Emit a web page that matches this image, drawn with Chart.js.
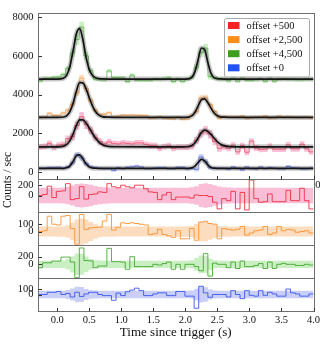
<!DOCTYPE html>
<html>
<head>
<meta charset="utf-8">
<script src="https://cdn.jsdelivr.net/npm/chart.js@4.4.0/dist/chart.umd.min.js"></script>
<style>
  html, body { margin: 0; padding: 0; background: #fff; }
</style>
</head>
<body>
<canvas id="lc" width="320" height="355"></canvas>
<script>
// time binning of the light curve
const T_START = -0.3;
const T_END = 4.0;
const N_BINS = 60;
const X_TICKS = [0, 0.5, 1.0, 1.5, 2.0, 2.5, 3.0, 3.5, 4.0];

// tick labels of the panels
const MAIN_TICKS = [0, 2000, 4000, 6000, 8000];
const RED_TICKS = [0, 200];
const ORANGE_TICKS = [0, 100];
const GREEN_TICKS = [0, 200];
const BLUE_TICKS = [0, 100];

// series order: red, orange, green, blue
const SERIES_LABELS = ['offset +500', 'offset +2,500', 'offset +4,500', 'offset +0'];
const SERIES_OFFSET = [500, 2500, 4500, 0];

// fitted model (counts / sec, before offset), sampled at MODEL_T
const MODEL_T = [-0.3, 0.0, 0.1, 0.15, 0.2, 0.25, 0.3, 0.35, 0.4, 0.45, 0.5, 0.55, 0.6, 0.65, 0.7, 0.8, 0.9,
  1.5, 1.95, 2.05, 2.1, 2.15, 2.2, 2.25, 2.3, 2.35, 2.4, 2.45, 2.5, 2.55, 2.6, 2.7, 2.8, 4.0];
const modelRed = [800, 802, 837, 926, 1135, 1491, 1912, 2192, 2192, 2032, 1775, 1491, 1238, 1049, 926, 823, 805,
  800, 801, 818, 873, 1015, 1264, 1537, 1660, 1599, 1440, 1242, 1063, 935, 860, 808, 800, 800];
const modelOrange = [320, 322, 340, 412, 629, 1076, 1680, 2114, 2103, 1793, 1343, 918, 613, 441, 362, 330, 322,
  320, 320, 336, 398, 582, 915, 1233, 1280, 1087, 797, 551, 407, 346, 330, 322, 320, 320];
const modelGreen = [300, 300, 349, 515, 975, 1797, 2646, 2900, 2342, 1434, 800, 480, 370, 320, 305, 300, 300,
  300, 300, 310, 387, 684, 1313, 1903, 1823, 1169, 598, 362, 320, 305, 300, 300, 300, 300];
const modelBlue = [190, 190, 193, 217, 318, 565, 847, 882, 681, 424, 265, 207, 195, 191, 190, 190, 190,
  190, 190, 191, 212, 301, 494, 649, 575, 368, 236, 197, 191, 190, 190, 190, 190, 190];

// 1-sigma errors, sampled at MODEL_T
const errRed = [150, 150, 155, 165, 180, 200, 220, 235, 235, 225, 215, 200, 185, 175, 165, 155, 150,
  150, 150, 152, 158, 170, 195, 225, 240, 235, 220, 200, 185, 170, 160, 152, 150, 150];
const errOrange = [70, 70, 72, 80, 98, 128, 160, 180, 180, 165, 143, 118, 97, 82, 75, 71, 70,
  70, 70, 72, 78, 94, 117, 136, 140, 128, 110, 92, 79, 73, 71, 70, 70, 70];
const errGreen = [95, 95, 100, 125, 170, 230, 280, 295, 265, 205, 155, 120, 105, 98, 96, 95, 95,
  95, 95, 97, 108, 143, 198, 240, 235, 188, 135, 105, 98, 96, 95, 95, 95, 95];
const errBlue = [70, 70, 70, 75, 90, 118, 140, 145, 128, 103, 82, 73, 71, 70, 70, 70, 70,
  70, 70, 70, 74, 90, 125, 150, 140, 110, 83, 72, 70, 70, 70, 70, 70, 70];

// residuals (data - model) per time bin
const residRed = [0, 20, 180, -40, 80, 90, 230, -80, -60, 170,
  -70, 20, 30, 70, 60, 230, 170, 150, 200, 170,
  150, 200, 200, 130, 70, 60, -80, 10, 60, -80,
  -30, -30, -30, -50, 10, 0, 0, -20, -130, -260,
  -60, -100, 80, -260, 60, -280, 300, -60, -130, -120,
  30, -120, -120, -120, 100, -100, -100, 140, -100, -260];
const residOrange = [0, 10, 210, 100, 90, 210, 220, 40, -175, 235,
  30, 50, 55, 60, 145, 235, 20, 60, 120, 110,
  120, 110, 100, 90, -40, -30, 30, -40, -60, -80,
  10, -100, -100, 40, -120, 130, 140, 110, 100, -100,
  40, 30, 20, 30, 70, -50, -20, 10, 20, 70,
  -40, -20, 70, 10, 30, 20, -10, 0, 10, -20];
const residGreen = [-90, 40, 40, 85, 85, 190, 190, 60, -350, 430,
  100, 90, -90, -45, -45, 420, 70, 70, 60, -130,
  200, -60, -60, -60, -60, 0, -20, 20, 60, -130,
  0, -130, 0, 0, -60, -170, 280, -310, 30, 0,
  0, -90, 60, -110, 85, -60, -60, -30, 20, -110,
  60, -110, 0, 25, 0, 0, -30, -30, 0, -20];
const residBlue = [0, 0, 40, 40, 55, 0, 20, -45, 40, -35,
  10, 40, 40, 0, -20, -20, -105, 25, -20, 50,
  80, 115, 70, -20, -20, 10, 30, 30, -20, -20,
  55, 55, -30, -30, -250, 150, 30, -50, 0, 0,
  0, -45, 70, 0, -75, 70, -15, -30, 70, -15,
  40, 10, -30, -30, 100, 30, 10, -30, -30, 10];

// styling
const LINE_COLORS = ['rgba(236,40,60,0.85)', 'rgba(250,140,40,0.85)', 'rgba(60,165,40,0.85)', 'rgba(50,80,235,0.85)'];
const MAIN_LINE_COLORS = ['rgba(236,40,60,0.6)', 'rgba(250,140,40,0.6)', 'rgba(60,170,40,0.6)', 'rgba(50,80,235,0.6)'];
const BAND_COLORS = ['rgba(240,60,130,0.33)', 'rgba(250,150,60,0.32)', 'rgba(90,205,70,0.33)', 'rgba(80,95,230,0.30)'];
const PATCH_COLORS = ['#f42222', '#ff8d1c', '#3c9f1e', '#2452f2'];
const RESID_AXES = ['r1', 'r2', 'r3', 'r4'];
const FRAME_COLOR = '#6f6f6f';
const FONT = "'Liberation Serif', 'Times New Roman', serif";

const MODELS = [modelRed, modelOrange, modelGreen, modelBlue];
const ERRORS = [errRed, errOrange, errGreen, errBlue];
const RESIDS = [residRed, residOrange, residGreen, residBlue];

const binW = (T_END - T_START) / N_BINS;
const edges = [];
for (let i = 0; i <= N_BINS; i++) edges.push(T_START + i * binW);
const centers = edges.slice(0, N_BINS).map(e => e + binW / 2);

function interp(ts, vs, t) {
  for (let j = 1; j < ts.length; j++) {
    if (t <= ts[j]) {
      const f = (t - ts[j - 1]) / (ts[j] - ts[j - 1]);
      return vs[j - 1] + f * (vs[j] - vs[j - 1]);
    }
  }
  return vs[vs.length - 1];
}

function stepPoints(vals) {
  const pts = vals.map((v, i) => ({ x: edges[i], y: v }));
  pts.push({ x: edges[N_BINS], y: vals[vals.length - 1] });
  return pts;
}

const datasets = [];
MODELS.forEach((model, k) => {
  const off = SERIES_OFFSET[k];
  const err = centers.map(t => interp(MODEL_T, ERRORS[k], t));
  const data = centers.map((t, i) => interp(MODEL_T, model, t) + RESIDS[k][i] + off);
  const common = { pointRadius: 0, stepped: 'before' };

  // main panel: error band, data histogram, model with halo
  datasets.push({ ...common, yAxisID: 'y', data: stepPoints(data.map((v, i) => v + err[i])),
    fill: '+1', backgroundColor: BAND_COLORS[k], borderWidth: 0, order: 4 });
  datasets.push({ ...common, yAxisID: 'y', data: stepPoints(data.map((v, i) => v - err[i])),
    fill: false, borderWidth: 0, order: 4 });
  datasets.push({ ...common, yAxisID: 'y', data: stepPoints(data),
    borderColor: MAIN_LINE_COLORS[k], borderWidth: 1, fill: false, order: 3 });
  const modelPts = MODEL_T.map((t, j) => ({ x: t, y: model[j] + off }));
  datasets.push({ yAxisID: 'y', data: modelPts, pointRadius: 0, cubicInterpolationMode: 'monotone',
    borderColor: 'rgba(80,80,80,0.32)', borderWidth: 5, fill: false, order: 2 });
  datasets.push({ yAxisID: 'y', data: modelPts, pointRadius: 0, cubicInterpolationMode: 'monotone',
    borderColor: '#141414', borderWidth: 1.7, fill: false, order: 1 });

  // residual panel
  const ax = RESID_AXES[k];
  datasets.push({ ...common, yAxisID: ax, data: stepPoints(err),
    fill: '+1', backgroundColor: BAND_COLORS[k], borderWidth: 0, order: 4 });
  datasets.push({ ...common, yAxisID: ax, data: stepPoints(err.map(e => -e)),
    fill: false, borderWidth: 0, order: 4 });
  datasets.push({ ...common, yAxisID: ax, data: stepPoints(RESIDS[k]),
    borderColor: LINE_COLORS[k], borderWidth: 1, fill: false, order: 3 });
});

function yAxis(min, max, ticks, stackWeight, weight) {
  return {
    type: 'linear', position: 'left', stack: 'panels', stackWeight: stackWeight, weight: weight,
    min: min, max: max,
    grid: { display: false, drawTicks: false }, border: { display: false },
    ticks: { autoSkip: false, padding: 4.5, color: '#111', font: { size: 10.5 }, callback: v => String(v) },
    afterBuildTicks: s => { s.ticks = ticks.map(v => ({ value: v })); },
    afterFit: s => { s.width = 38; s.paddingTop = 0; s.paddingBottom = 0; }
  };
}

const panelDecor = {
  id: 'panelDecor',
  afterDraw(chart) {
    const ctx = chart.ctx;
    const xs = chart.scales.x;
    const area = chart.chartArea;
    const L = Math.round(area.left) + 0.5;
    const R = Math.round(area.right) + 0.5;
    ctx.save();

    // frames and inward y ticks
    ctx.lineWidth = 1;
    ['y', ...RESID_AXES].forEach(id => {
      const s = chart.scales[id];
      const T = Math.round(s.top) + 0.5, B = Math.round(s.bottom) + 0.5;
      ctx.strokeStyle = FRAME_COLOR;
      ctx.strokeRect(L, T, R - L, B - T);
      ctx.beginPath();
      s.ticks.forEach(t => {
        const py = Math.round(s.getPixelForValue(t.value)) + 0.5;
        ctx.moveTo(L, py); ctx.lineTo(L + 3.5, py);
      });
      ctx.strokeStyle = '#333';
      ctx.stroke();
    });

    // inward x ticks on main panel and bottom panel
    ctx.strokeStyle = '#333';
    ['y', 'r4'].forEach(id => {
      const B = Math.round(chart.scales[id].bottom) + 0.5;
      ctx.beginPath();
      xs.ticks.forEach(t => {
        const px = Math.round(xs.getPixelForValue(t.value)) + 0.5;
        ctx.moveTo(px, B); ctx.lineTo(px, B - 3.5);
      });
      ctx.stroke();
    });

    // tail of the main panel's last x label peeking out on the right
    ctx.save();
    ctx.beginPath();
    ctx.rect(R + 0.5, chart.scales.y.bottom, 10, 14);
    ctx.clip();
    ctx.fillStyle = '#111';
    ctx.font = '10.5px ' + FONT;
    ctx.textAlign = 'center';
    ctx.textBaseline = 'middle';
    ctx.fillText('4.0', xs.getPixelForValue(4.0) + 0.5, chart.scales.y.bottom + 6.5);
    ctx.restore();

    // axis titles
    ctx.fillStyle = '#111';
    ctx.textAlign = 'center';
    ctx.textBaseline = 'middle';
    ctx.font = '13px ' + FONT;
    ctx.fillText('Time since trigger (s)', (area.left + area.right) / 2, 333);
    ctx.save();
    ctx.translate(8, 180);
    ctx.rotate(-Math.PI / 2);
    ctx.font = '11.5px ' + FONT;
    ctx.fillText('Counts / sec', 0, 0);
    ctx.restore();

    // legend
    const bx = 224.5, by = 18.5, bw = 85, bh = 58.5;
    ctx.beginPath();
    if (ctx.roundRect) ctx.roundRect(bx, by, bw, bh, 2); else ctx.rect(bx, by, bw, bh);
    ctx.fillStyle = 'rgba(255,255,255,0.85)';
    ctx.fill();
    ctx.strokeStyle = '#a8a8a8';
    ctx.stroke();
    ctx.font = '10.5px ' + FONT;
    ctx.textAlign = 'left';
    SERIES_LABELS.forEach((lab, k) => {
      const yc = 25.5 + k * 14.1;
      ctx.fillStyle = PATCH_COLORS[k];
      ctx.fillRect(228, yc - 3.5, 11.5, 7);
      ctx.fillStyle = '#111';
      ctx.fillText(lab, 246.5, yc + 0.5);
    });
    ctx.restore();
  }
};

Chart.defaults.font.family = FONT;

new Chart(document.getElementById('lc').getContext('2d'), {
  type: 'line',
  data: { datasets: datasets },
  options: {
    responsive: false,
    animation: false,
    layout: { padding: { top: 13, right: 6.5, bottom: 0, left: 0 } },
    plugins: { legend: { display: false }, tooltip: { enabled: false } },
    scales: {
      x: {
        type: 'linear', position: 'bottom', min: T_START, max: T_END,
        grid: { display: false, drawTicks: false }, border: { display: false },
        ticks: { autoSkip: false, maxRotation: 0, padding: 3, color: '#111', font: { size: 10.5 },
          callback: v => Number(v).toFixed(1) },
        afterBuildTicks: s => { s.ticks = X_TICKS.map(v => ({ value: v })); },
        afterFit: s => { s.height = 44; s.paddingLeft = 0; s.paddingRight = 0; }
      },
      y: yAxis(-360, 8210, MAIN_TICKS, 166, 4),
      r1: yAxis(-320, 320, RED_TICKS, 33, 3),
      r2: yAxis(-185, 268, ORANGE_TICKS, 33, 2),
      r3: yAxis(-360, 508, GREEN_TICKS, 33, 1),
      r4: yAxis(-300, 300, BLUE_TICKS, 33, 0)
    }
  },
  plugins: [panelDecor]
});
</script>
</body>
</html>
